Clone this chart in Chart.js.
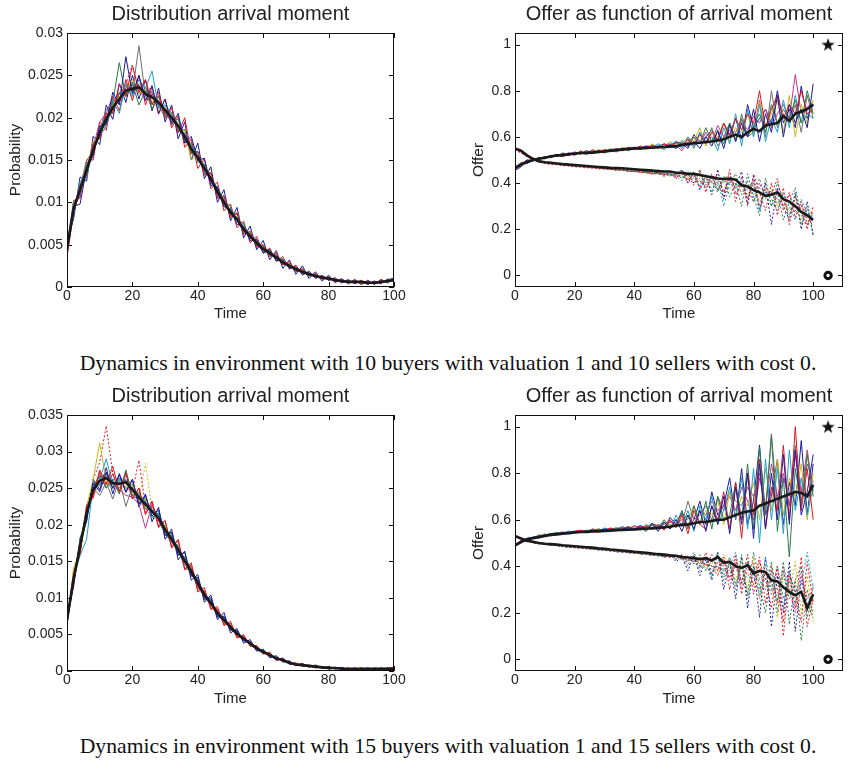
<!DOCTYPE html>
<html>
<head>
<meta charset="utf-8">
<script src="https://cdn.jsdelivr.net/npm/chart.js@4.4.1/dist/chart.umd.min.js"></script>
<style>
body { margin: 0; background: #fff; width: 851px; height: 760px; position: relative; overflow: hidden; }
canvas { position: absolute; }
.cap { position: absolute; left: 0; width: 896px; text-align: center; font: 21.7px/1 'Liberation Serif', 'Times New Roman', serif; color: #111; white-space: nowrap; }
</style>
</head>
<body>
<canvas id="tl" width="410" height="330" style="left:0;top:0"></canvas>
<canvas id="tr" width="388" height="330" style="left:463px;top:0"></canvas>
<canvas id="bl" width="410" height="330" style="left:0;top:382px"></canvas>
<canvas id="br" width="388" height="330" style="left:463px;top:382px"></canvas>
<div class="cap" style="top:353px">Dynamics in environment with 10 buyers with valuation 1 and 10 sellers with cost 0.</div>
<div class="cap" style="top:736px">Dynamics in environment with 15 buyers with valuation 1 and 15 sellers with cost 0.</div>
<script>
// arrival moments (sampled every 2 steps)
const time = [0,2,4,6,8,10,12,14,16,18,20,22,24,26,28,30,32,34,36,38,40,42,44,46,48,50,52,54,56,58,60,62,64,66,68,70,72,74,76,78,80,82,84,86,88,90,92,94,96,98,100]

const probTicks10 = [0, 0.005, 0.01, 0.015, 0.02, 0.025, 0.03]
const probLabels10 = ['0', '0.005', '0.01', '0.015', '0.02', '0.025', '0.03']
const probTicks15 = [0, 0.005, 0.01, 0.015, 0.02, 0.025, 0.03, 0.035]
const probLabels15 = ['0', '0.005', '0.01', '0.015', '0.02', '0.025', '0.03', '0.035']
const offerTicks = [0, 0.2, 0.4, 0.6, 0.8, 1]
const offerLabels = ['0', '0.2', '0.4', '0.6', '0.8', '1']
const timeTicks = [0, 20, 40, 60, 80, 100]

// valuation / cost markers
const starPoint = [{x: 105, y: 1}]
const circlePoint = [{x: 105, y: 0}]

const colors = ['#1b1b9e', '#e8141c', '#2c7a4b', '#1a9fd0', '#c8b81a', '#c7358c', '#6e6e6e']

// ---- 10 buyers / 10 sellers : arrival distribution
const dist10Mean = [.0045,.0092,.0115,.0138,.0162,.0182,.0198,.0212,.0222,.0232,.0234,.0236,.0228,.0224,.0218,.0209,.0200,.0190,.0178,.0163,.0153,.0140,.0128,.0112,.0100,.0088,.0080,.0068,.0060,.0052,.0045,.0040,.0035,.0029,.0025,.0021,.0018,.0015,.0013,.0011,.0010,.0008,.0007,.0006,.0006,.0006,.0005,.0005,.0006,.0007,.0008]
const dist10Runs = [
  [.0040,.0095,.0098,.0140,.0155,.0190,.0192,.0230,.0215,.0272,.0228,.0250,.0220,.0238,.0205,.0222,.0192,.0205,.0170,.0178,.0150,.0152,.0120,.0118,.0095,.0092,.0074,.0072,.0055,.0056,.0040,.0044,.0031,.0032,.0022,.0024,.0015,.0017,.0011,.0013,.0008,.0010,.0005,.0008,.0004,.0007,.0003,.0007,.0004,.0009,.0010],
  [.0035,.0088,.0120,.0132,.0170,.0175,.0205,.0205,.0240,.0225,.0262,.0230,.0245,.0215,.0230,.0200,.0212,.0182,.0200,.0158,.0160,.0132,.0135,.0105,.0108,.0082,.0088,.0062,.0066,.0048,.0050,.0036,.0040,.0026,.0030,.0018,.0022,.0013,.0016,.0009,.0012,.0006,.0009,.0004,.0008,.0003,.0007,.0003,.0008,.0005,.0009],
  [.0050,.0100,.0110,.0145,.0158,.0188,.0200,.0218,.0265,.0225,.0240,.0215,.0232,.0210,.0225,.0205,.0195,.0198,.0172,.0170,.0148,.0145,.0125,.0118,.0102,.0095,.0078,.0075,.0058,.0056,.0044,.0044,.0033,.0033,.0026,.0022,.0020,.0016,.0014,.0012,.0011,.0009,.0008,.0007,.0006,.0005,.0006,.0004,.0007,.0006,.0010],
  [.0042,.0085,.0125,.0128,.0168,.0178,.0190,.0220,.0205,.0240,.0225,.0245,.0235,.0255,.0212,.0215,.0205,.0185,.0182,.0165,.0158,.0135,.0130,.0108,.0105,.0085,.0082,.0065,.0062,.0050,.0047,.0038,.0036,.0028,.0026,.0020,.0019,.0014,.0014,.0010,.0010,.0007,.0008,.0005,.0007,.0004,.0006,.0004,.0005,.0006,.0007],
  [.0044,.0098,.0112,.0135,.0172,.0180,.0195,.0215,.0225,.0230,.0245,.0228,.0232,.0220,.0210,.0212,.0198,.0188,.0185,.0150,.0155,.0138,.0130,.0110,.0102,.0086,.0082,.0070,.0058,.0054,.0043,.0042,.0034,.0030,.0027,.0020,.0019,.0015,.0012,.0012,.0009,.0009,.0006,.0007,.0006,.0005,.0006,.0004,.0006,.0006,.0007],
  [.0046,.0094,.0108,.0142,.0165,.0195,.0205,.0225,.0218,.0235,.0238,.0232,.0222,.0228,.0220,.0205,.0196,.0192,.0175,.0168,.0150,.0142,.0124,.0116,.0098,.0090,.0078,.0070,.0058,.0054,.0046,.0039,.0036,.0028,.0026,.0021,.0018,.0015,.0013,.0011,.0010,.0008,.0007,.0006,.0006,.0006,.0005,.0005,.0006,.0007,.0008],
  [.0048,.0090,.0118,.0150,.0160,.0185,.0210,.0208,.0228,.0238,.0230,.0285,.0225,.0230,.0215,.0200,.0202,.0192,.0175,.0160,.0150,.0142,.0126,.0114,.0098,.0090,.0080,.0066,.0062,.0050,.0042,.0041,.0034,.0030,.0024,.0022,.0017,.0015,.0012,.0012,.0009,.0009,.0007,.0007,.0005,.0006,.0004,.0005,.0005,.0007,.0008],
  [.0055,.0080,.0130,.0125,.0178,.0168,.0215,.0198,.0240,.0218,.0250,.0222,.0245,.0208,.0235,.0195,.0215,.0175,.0195,.0150,.0170,.0128,.0142,.0100,.0115,.0078,.0094,.0058,.0072,.0044,.0055,.0032,.0043,.0022,.0032,.0015,.0025,.0010,.0018,.0007,.0014,.0005,.0010,.0004,.0009,.0003,.0008,.0003,.0009,.0005,.0011],
  [.0038,.0102,.0105,.0150,.0150,.0195,.0185,.0225,.0208,.0245,.0220,.0250,.0215,.0236,.0204,.0222,.0188,.0202,.0165,.0175,.0140,.0152,.0116,.0124,.0090,.0098,.0070,.0078,.0052,.0060,.0040,.0046,.0030,.0036,.0021,.0026,.0014,.0019,.0010,.0014,.0008,.0011,.0005,.0009,.0004,.0008,.0003,.0007,.0004,.0009,.0006],
  [.0050,.0086,.0122,.0132,.0168,.0176,.0204,.0206,.0230,.0226,.0242,.0228,.0236,.0216,.0226,.0202,.0206,.0184,.0186,.0158,.0160,.0134,.0134,.0106,.0106,.0084,.0086,.0064,.0064,.0048,.0049,.0037,.0038,.0027,.0028,.0019,.0020,.0014,.0015,.0010,.0011,.0007,.0008,.0005,.0007,.0005,.0006,.0004,.0007,.0006,.0009]
]
const dist10Dotted = [
  [.0040,.0088,.0118,.0140,.0160,.0185,.0200,.0210,.0230,.0240,.0262,.0235,.0242,.0228,.0215,.0205,.0210,.0188,.0180,.0165,.0150,.0145,.0125,.0115,.0098,.0092,.0078,.0070,.0060,.0050,.0047,.0040,.0033,.0030,.0025,.0022,.0017,.0016,.0012,.0012,.0009,.0009,.0007,.0006,.0006,.0005,.0005,.0005,.0006,.0006,.0008],
  [.0050,.0090,.0112,.0136,.0165,.0178,.0202,.0215,.0220,.0228,.0232,.0240,.0226,.0222,.0220,.0212,.0198,.0192,.0176,.0166,.0155,.0138,.0130,.0110,.0102,.0086,.0082,.0066,.0062,.0050,.0045,.0040,.0036,.0029,.0026,.0020,.0019,.0014,.0014,.0010,.0011,.0008,.0008,.0006,.0007,.0005,.0006,.0004,.0006,.0007,.0008],
  [.0045,.0093,.0116,.0138,.0158,.0184,.0196,.0214,.0224,.0230,.0236,.0238,.0230,.0226,.0214,.0206,.0202,.0186,.0180,.0162,.0154,.0138,.0130,.0110,.0101,.0087,.0081,.0067,.0061,.0051,.0046,.0039,.0035,.0029,.0025,.0021,.0018,.0015,.0013,.0011,.0010,.0008,.0007,.0006,.0006,.0006,.0005,.0005,.0006,.0007,.0008],
  [.0042,.0098,.0108,.0145,.0155,.0190,.0190,.0220,.0215,.0238,.0226,.0244,.0220,.0232,.0210,.0216,.0192,.0198,.0170,.0172,.0146,.0148,.0122,.0120,.0094,.0094,.0074,.0074,.0056,.0058,.0042,.0044,.0032,.0033,.0023,.0024,.0016,.0017,.0011,.0012,.0008,.0009,.0006,.0007,.0005,.0007,.0004,.0006,.0005,.0008,.0007],
  [.0048,.0086,.0122,.0132,.0170,.0175,.0206,.0205,.0230,.0226,.0242,.0228,.0236,.0216,.0226,.0202,.0208,.0182,.0186,.0156,.0160,.0132,.0136,.0104,.0108,.0082,.0086,.0062,.0064,.0046,.0048,.0036,.0038,.0026,.0028,.0018,.0020,.0013,.0015,.0010,.0012,.0007,.0009,.0005,.0008,.0004,.0007,.0004,.0007,.0005,.0009],
  [.0046,.0094,.0114,.0141,.0159,.0186,.0194,.0216,.0220,.0236,.0230,.0240,.0226,.0228,.0214,.0210,.0198,.0194,.0176,.0166,.0152,.0142,.0128,.0114,.0100,.0090,.0080,.0070,.0060,.0054,.0045,.0041,.0035,.0030,.0025,.0022,.0018,.0016,.0013,.0012,.0010,.0009,.0007,.0007,.0006,.0006,.0005,.0005,.0006,.0007,.0008]
]

// ---- 10 buyers / 10 sellers : offers
const offer10Buyer = [.465,.48,.49,.50,.505,.51,.515,.52,.52,.525,.527,.53,.53,.532,.535,.537,.54,.542,.545,.548,.55,.55,.552,.553,.555,.556,.558,.56,.565,.57,.573,.575,.578,.58,.585,.59,.60,.61,.60,.62,.635,.625,.65,.655,.66,.69,.67,.70,.71,.72,.74]
const offer10Seller = [.55,.54,.52,.505,.495,.49,.488,.485,.482,.48,.478,.476,.474,.472,.47,.468,.466,.465,.464,.462,.46,.458,.456,.454,.452,.45,.45,.445,.445,.44,.44,.435,.43,.425,.42,.418,.42,.415,.39,.385,.37,.36,.345,.35,.36,.33,.32,.30,.275,.26,.24]
const offer10BuyerRuns = [
  [.455,.47,.50,.495,.51,.505,.52,.515,.53,.52,.535,.525,.54,.53,.54,.535,.545,.54,.55,.545,.555,.55,.56,.55,.56,.555,.565,.55,.575,.56,.58,.55,.60,.56,.63,.55,.65,.58,.66,.60,.72,.58,.70,.62,.78,.60,.74,.66,.72,.64,.83],
  [.47,.485,.49,.505,.50,.515,.51,.525,.515,.53,.52,.54,.525,.545,.53,.545,.535,.55,.54,.555,.545,.56,.55,.565,.55,.57,.56,.575,.56,.59,.57,.61,.57,.62,.59,.66,.60,.68,.63,.70,.66,.80,.64,.72,.78,.68,.74,.70,.80,.70,.72],
  [.46,.49,.485,.50,.51,.51,.52,.515,.525,.52,.53,.53,.525,.535,.54,.53,.54,.535,.55,.54,.55,.545,.555,.55,.56,.545,.57,.55,.585,.56,.60,.57,.64,.58,.62,.57,.66,.59,.68,.60,.65,.70,.62,.74,.66,.72,.68,.76,.66,.80,.70],
  [.47,.475,.495,.50,.505,.515,.51,.52,.52,.53,.525,.535,.53,.54,.535,.54,.545,.55,.545,.55,.55,.56,.55,.555,.57,.56,.565,.58,.55,.60,.56,.62,.58,.60,.54,.64,.57,.70,.56,.72,.60,.74,.58,.68,.62,.76,.64,.78,.66,.70,.68],
  [.46,.48,.49,.51,.50,.515,.515,.52,.53,.525,.53,.535,.54,.53,.545,.54,.55,.54,.555,.55,.55,.56,.545,.57,.555,.56,.58,.56,.57,.60,.58,.64,.56,.62,.60,.66,.58,.64,.62,.70,.60,.75,.64,.70,.76,.62,.78,.60,.74,.66,.76],
  [.465,.485,.50,.50,.51,.51,.52,.52,.525,.53,.53,.53,.535,.54,.535,.545,.54,.55,.55,.55,.555,.555,.56,.56,.56,.565,.57,.565,.54,.58,.60,.57,.62,.58,.65,.60,.63,.62,.67,.63,.69,.66,.72,.64,.70,.74,.68,.87,.70,.73,.75],
  [.462,.478,.492,.502,.506,.512,.516,.522,.524,.528,.53,.532,.534,.536,.538,.54,.542,.545,.546,.55,.552,.553,.556,.558,.56,.562,.555,.575,.56,.59,.55,.62,.57,.64,.56,.60,.66,.58,.70,.60,.62,.76,.60,.80,.64,.70,.66,.74,.62,.78,.68],
  [.468,.482,.488,.498,.508,.508,.518,.518,.522,.526,.528,.528,.532,.53,.536,.538,.538,.546,.544,.552,.55,.558,.552,.56,.556,.57,.56,.58,.57,.55,.61,.58,.60,.63,.58,.66,.61,.68,.59,.74,.64,.68,.72,.66,.80,.66,.72,.64,.82,.68,.74]
]
const offer10SellerRuns = [
  [.545,.53,.515,.50,.49,.485,.48,.48,.475,.475,.47,.47,.465,.47,.46,.465,.46,.455,.46,.45,.455,.445,.45,.44,.445,.435,.445,.42,.45,.41,.44,.38,.43,.40,.44,.36,.42,.38,.40,.33,.41,.30,.38,.35,.42,.28,.36,.25,.32,.22,.28],
  [.55,.545,.52,.51,.50,.49,.49,.485,.48,.48,.475,.475,.47,.47,.465,.465,.46,.46,.455,.455,.45,.45,.445,.45,.44,.445,.435,.44,.42,.44,.40,.45,.39,.43,.37,.41,.40,.44,.35,.41,.32,.38,.36,.30,.40,.33,.26,.35,.22,.30,.18],
  [.55,.535,.525,.505,.50,.49,.485,.485,.48,.475,.48,.47,.47,.465,.47,.46,.465,.455,.46,.45,.45,.455,.445,.44,.445,.43,.44,.43,.41,.45,.42,.39,.44,.36,.42,.30,.40,.38,.42,.34,.39,.28,.37,.33,.28,.36,.30,.24,.33,.27,.25],
  [.545,.54,.52,.505,.495,.49,.49,.48,.48,.478,.475,.47,.47,.47,.465,.462,.46,.46,.455,.45,.455,.45,.44,.445,.44,.44,.43,.445,.43,.42,.44,.40,.42,.38,.41,.40,.37,.42,.38,.35,.40,.32,.36,.38,.30,.34,.28,.31,.24,.29,.26],
  [.55,.53,.52,.50,.49,.49,.485,.48,.48,.475,.475,.47,.468,.465,.465,.46,.458,.46,.455,.452,.45,.448,.445,.44,.44,.438,.435,.43,.44,.40,.43,.41,.38,.42,.39,.36,.42,.35,.39,.37,.32,.40,.34,.36,.33,.30,.35,.28,.31,.26,.23],
  [.55,.54,.52,.50,.495,.488,.485,.482,.48,.478,.475,.472,.47,.468,.466,.463,.462,.46,.458,.455,.452,.45,.448,.446,.443,.44,.438,.435,.45,.42,.43,.44,.40,.43,.37,.42,.44,.36,.40,.38,.35,.42,.33,.37,.31,.35,.32,.27,.30,.24,.22],
  [.55,.54,.522,.505,.496,.49,.486,.484,.48,.48,.476,.474,.472,.47,.468,.466,.464,.46,.46,.458,.455,.452,.45,.448,.445,.44,.44,.43,.46,.40,.45,.37,.43,.35,.46,.33,.42,.39,.45,.31,.43,.28,.40,.22,.38,.30,.24,.36,.20,.32,.17],
  [.545,.535,.518,.505,.494,.49,.486,.483,.48,.477,.474,.472,.469,.466,.464,.462,.46,.458,.456,.452,.45,.448,.446,.44,.442,.43,.445,.42,.44,.43,.39,.46,.36,.44,.40,.34,.46,.32,.43,.30,.44,.36,.28,.40,.26,.38,.22,.34,.28,.20,.30],
  [.55,.54,.52,.505,.495,.49,.488,.485,.48,.478,.476,.474,.47,.47,.466,.464,.462,.458,.456,.454,.45,.45,.446,.442,.44,.438,.432,.436,.425,.44,.40,.42,.38,.41,.36,.43,.34,.40,.30,.44,.34,.26,.42,.30,.36,.24,.32,.38,.26,.22,.27]
]

// ---- 15 buyers / 15 sellers : arrival distribution
const dist15Mean = [.0070,.0125,.0170,.0216,.0248,.0260,.0264,.0257,.0256,.0258,.0248,.0237,.0228,.0218,.0209,.0193,.0180,.0166,.0150,.0136,.0120,.0104,.0093,.0079,.0070,.0060,.0051,.0044,.0038,.0031,.0026,.0022,.0017,.0015,.0011,.0009,.0008,.0007,.0006,.0005,.0004,.0004,.0003,.0003,.0003,.0003,.0003,.0003,.0003,.0003,.0003]
const dist15Runs = [
  [.0065,.0120,.0175,.0205,.0258,.0245,.0272,.0250,.0268,.0245,.0262,.0228,.0240,.0212,.0220,.0185,.0190,.0158,.0162,.0130,.0128,.0098,.0100,.0074,.0075,.0056,.0055,.0041,.0040,.0029,.0028,.0020,.0019,.0013,.0013,.0008,.0010,.0006,.0008,.0004,.0006,.0003,.0005,.0002,.0004,.0002,.0004,.0002,.0004,.0003,.0004],
  [.0072,.0132,.0160,.0225,.0240,.0275,.0255,.0280,.0245,.0270,.0235,.0250,.0215,.0232,.0198,.0205,.0170,.0178,.0140,.0145,.0112,.0110,.0086,.0085,.0064,.0065,.0046,.0048,.0034,.0034,.0024,.0024,.0015,.0017,.0010,.0011,.0007,.0008,.0005,.0006,.0004,.0005,.0002,.0004,.0002,.0004,.0002,.0004,.0003,.0004,.0005],
  [.0068,.0118,.0180,.0210,.0252,.0268,.0250,.0262,.0242,.0275,.0240,.0244,.0222,.0225,.0212,.0190,.0185,.0160,.0155,.0140,.0115,.0108,.0090,.0082,.0068,.0062,.0050,.0046,.0037,.0033,.0027,.0023,.0018,.0016,.0012,.0010,.0009,.0007,.0006,.0005,.0005,.0004,.0003,.0003,.0003,.0003,.0002,.0003,.0003,.0003,.0004],
  [.0070,.0128,.0158,.0180,.0255,.0262,.0290,.0255,.0260,.0262,.0236,.0240,.0232,.0210,.0215,.0196,.0176,.0172,.0148,.0138,.0122,.0100,.0096,.0076,.0072,.0058,.0052,.0042,.0040,.0030,.0026,.0022,.0016,.0015,.0011,.0009,.0008,.0007,.0006,.0005,.0004,.0004,.0003,.0003,.0003,.0003,.0003,.0003,.0003,.0003,.0003],
  [.0060,.0140,.0165,.0225,.0262,.0312,.0260,.0250,.0262,.0250,.0255,.0232,.0235,.0210,.0212,.0198,.0180,.0170,.0148,.0140,.0118,.0106,.0092,.0080,.0068,.0062,.0050,.0045,.0038,.0031,.0027,.0022,.0018,.0014,.0012,.0009,.0008,.0007,.0006,.0005,.0004,.0004,.0003,.0003,.0003,.0003,.0003,.0003,.0003,.0004,.0003],
  [.0075,.0122,.0172,.0218,.0245,.0258,.0262,.0255,.0248,.0240,.0238,.0228,.0195,.0228,.0205,.0196,.0182,.0162,.0152,.0132,.0122,.0102,.0094,.0078,.0071,.0058,.0052,.0043,.0039,.0030,.0026,.0021,.0018,.0014,.0012,.0009,.0008,.0007,.0006,.0005,.0004,.0004,.0003,.0003,.0003,.0003,.0003,.0003,.0003,.0003,.0004],
  [.0070,.0126,.0168,.0212,.0250,.0240,.0258,.0235,.0262,.0225,.0252,.0240,.0226,.0220,.0208,.0188,.0175,.0168,.0140,.0138,.0118,.0106,.0090,.0082,.0066,.0060,.0048,.0046,.0036,.0030,.0025,.0022,.0017,.0015,.0011,.0010,.0008,.0007,.0006,.0005,.0004,.0004,.0003,.0003,.0003,.0003,.0003,.0003,.0003,.0003,.0003],
  [.0075,.0115,.0182,.0205,.0262,.0248,.0278,.0242,.0270,.0244,.0262,.0224,.0242,.0204,.0224,.0180,.0194,.0152,.0164,.0124,.0132,.0094,.0104,.0070,.0080,.0052,.0058,.0038,.0043,.0027,.0030,.0018,.0021,.0012,.0014,.0007,.0010,.0005,.0008,.0004,.0006,.0003,.0004,.0002,.0004,.0002,.0004,.0002,.0004,.0002,.0004],
  [.0065,.0135,.0160,.0228,.0236,.0272,.0250,.0270,.0244,.0272,.0236,.0250,.0214,.0232,.0196,.0206,.0168,.0180,.0138,.0148,.0108,.0114,.0084,.0088,.0062,.0068,.0045,.0050,.0034,.0035,.0023,.0026,.0014,.0018,.0009,.0011,.0006,.0008,.0004,.0006,.0003,.0005,.0002,.0004,.0002,.0004,.0002,.0004,.0002,.0004,.0003],
  [.0070,.0128,.0176,.0210,.0256,.0254,.0270,.0250,.0264,.0250,.0256,.0230,.0236,.0210,.0216,.0186,.0188,.0160,.0156,.0130,.0126,.0100,.0098,.0074,.0074,.0056,.0054,.0042,.0040,.0030,.0028,.0021,.0019,.0014,.0012,.0009,.0009,.0006,.0007,.0004,.0005,.0003,.0004,.0003,.0003,.0003,.0003,.0003,.0003,.0003,.0004]
]
const dist15Dotted = [
  [.0068,.0125,.0172,.0212,.0262,.0285,.0335,.0270,.0255,.0250,.0245,.0288,.0225,.0220,.0210,.0195,.0182,.0168,.0152,.0136,.0120,.0105,.0094,.0080,.0071,.0061,.0052,.0045,.0038,.0032,.0027,.0022,.0017,.0015,.0012,.0010,.0008,.0007,.0006,.0005,.0004,.0004,.0003,.0003,.0003,.0004,.0003,.0003,.0003,.0003,.0003],
  [.0072,.0128,.0168,.0218,.0245,.0262,.0258,.0252,.0262,.0252,.0242,.0235,.0284,.0218,.0205,.0192,.0178,.0162,.0150,.0134,.0118,.0102,.0092,.0078,.0069,.0059,.0050,.0044,.0037,.0031,.0025,.0021,.0017,.0015,.0011,.0009,.0008,.0007,.0006,.0005,.0004,.0004,.0003,.0003,.0003,.0003,.0003,.0003,.0003,.0003,.0003],
  [.0066,.0122,.0174,.0220,.0250,.0265,.0268,.0260,.0250,.0262,.0250,.0240,.0230,.0222,.0212,.0195,.0182,.0168,.0152,.0138,.0122,.0106,.0094,.0080,.0071,.0061,.0052,.0045,.0038,.0032,.0027,.0022,.0018,.0015,.0011,.0010,.0008,.0007,.0006,.0005,.0004,.0004,.0003,.0003,.0003,.0003,.0003,.0003,.0003,.0003,.0003],
  [.0070,.0120,.0176,.0212,.0254,.0266,.0270,.0262,.0262,.0266,.0254,.0242,.0234,.0222,.0214,.0198,.0184,.0170,.0154,.0140,.0124,.0108,.0096,.0082,.0072,.0062,.0053,.0046,.0039,.0032,.0027,.0022,.0018,.0015,.0012,.0010,.0008,.0007,.0006,.0005,.0005,.0004,.0004,.0003,.0003,.0003,.0003,.0003,.0003,.0003,.0003],
  [.0068,.0130,.0164,.0220,.0242,.0254,.0258,.0250,.0250,.0252,.0242,.0232,.0222,.0212,.0204,.0188,.0176,.0162,.0146,.0132,.0116,.0100,.0090,.0076,.0068,.0058,.0049,.0042,.0036,.0030,.0025,.0021,.0016,.0014,.0010,.0009,.0007,.0006,.0005,.0005,.0004,.0003,.0003,.0003,.0003,.0003,.0003,.0003,.0003,.0003,.0004],
  [.0072,.0124,.0172,.0214,.0250,.0262,.0262,.0262,.0254,.0262,.0246,.0240,.0226,.0222,.0206,.0196,.0178,.0170,.0148,.0140,.0118,.0108,.0091,.0082,.0068,.0062,.0050,.0046,.0037,.0032,.0026,.0023,.0017,.0016,.0011,.0010,.0008,.0007,.0006,.0005,.0004,.0004,.0003,.0003,.0003,.0003,.0003,.0003,.0003,.0003,.0003]
]

// ---- 15 buyers / 15 sellers : offers
const offer15Buyer = [.49,.505,.515,.52,.525,.53,.535,.537,.54,.542,.545,.547,.548,.55,.55,.552,.553,.555,.556,.557,.558,.56,.562,.563,.565,.568,.57,.575,.578,.58,.585,.59,.59,.595,.60,.60,.61,.62,.63,.635,.64,.66,.67,.68,.69,.70,.71,.72,.715,.70,.75]
const offer15Seller = [.53,.52,.51,.505,.50,.497,.495,.493,.49,.488,.486,.484,.482,.48,.477,.475,.472,.47,.468,.465,.462,.46,.458,.455,.452,.45,.447,.445,.44,.438,.435,.43,.435,.425,.44,.415,.42,.40,.393,.405,.37,.38,.375,.34,.335,.31,.29,.275,.29,.22,.28]
const offer15BuyerRuns = [
  [.49,.51,.52,.525,.53,.535,.54,.54,.545,.545,.55,.545,.55,.555,.55,.56,.555,.56,.56,.565,.56,.57,.555,.58,.55,.59,.56,.60,.55,.62,.56,.64,.55,.66,.58,.70,.54,.74,.58,.80,.52,.84,.56,.80,.60,.88,.58,.90,.62,.72,.88],
  [.485,.50,.515,.52,.53,.53,.54,.535,.545,.54,.55,.555,.545,.56,.555,.55,.565,.555,.56,.57,.555,.56,.575,.56,.58,.555,.60,.565,.62,.54,.64,.58,.56,.66,.60,.72,.56,.76,.52,.80,.62,.86,.56,.74,.64,.92,.60,1.0,.64,.82,.60],
  [.495,.505,.52,.52,.535,.53,.54,.545,.54,.55,.545,.55,.555,.55,.56,.555,.56,.565,.555,.57,.56,.565,.55,.585,.56,.60,.57,.58,.64,.56,.66,.58,.68,.56,.70,.60,.62,.76,.60,.84,.56,.91,.62,.96,.55,.78,.44,.82,.66,.88,.70],
  [.49,.51,.515,.525,.525,.535,.535,.545,.54,.55,.55,.545,.55,.56,.55,.565,.555,.555,.57,.56,.565,.555,.58,.565,.575,.59,.56,.62,.57,.64,.55,.66,.60,.70,.58,.64,.74,.60,.78,.56,.82,.50,.86,.60,.82,.54,.90,.64,.78,.62,.74],
  [.495,.505,.51,.52,.53,.54,.53,.54,.55,.54,.545,.555,.545,.55,.56,.55,.555,.565,.56,.555,.57,.56,.565,.58,.56,.59,.58,.57,.62,.60,.66,.58,.64,.62,.68,.58,.72,.62,.70,.66,.76,.60,.82,.64,.86,.62,.78,.70,.84,.60,.80],
  [.49,.505,.52,.52,.53,.535,.535,.54,.545,.545,.55,.55,.55,.555,.555,.56,.56,.56,.565,.565,.57,.57,.565,.575,.57,.58,.59,.585,.60,.62,.58,.64,.62,.68,.64,.66,.70,.64,.74,.68,.60,.78,.66,.84,.70,.80,.66,.88,.72,.90,.72],
  [.49,.50,.515,.525,.525,.53,.54,.54,.54,.55,.545,.55,.55,.555,.56,.555,.56,.56,.57,.56,.575,.565,.57,.58,.575,.57,.59,.60,.58,.68,.60,.62,.66,.60,.70,.64,.72,.68,.66,.74,.70,.80,.64,.97,.66,.78,.70,.92,.68,.84,.76],
  [.488,.502,.512,.522,.528,.534,.538,.542,.544,.548,.55,.552,.552,.556,.558,.558,.562,.562,.566,.568,.562,.575,.565,.585,.57,.56,.61,.58,.63,.57,.60,.68,.58,.72,.62,.66,.78,.60,.82,.58,.68,.92,.62,.70,.86,.58,.76,.66,.94,.62,.84]
]
const offer15SellerRuns = [
  [.53,.515,.51,.50,.50,.495,.49,.49,.485,.485,.48,.48,.478,.475,.475,.47,.47,.465,.465,.46,.46,.455,.455,.45,.45,.445,.44,.445,.43,.44,.42,.44,.40,.45,.38,.44,.30,.43,.33,.45,.28,.42,.35,.22,.40,.10,.36,.30,.16,.42,.24],
  [.525,.52,.505,.505,.495,.495,.49,.49,.485,.48,.485,.478,.48,.472,.475,.468,.47,.462,.465,.458,.46,.452,.455,.448,.45,.44,.452,.435,.45,.42,.46,.40,.44,.36,.46,.34,.42,.30,.45,.26,.40,.32,.20,.38,.25,.42,.15,.34,.08,.30,.20],
  [.535,.52,.51,.50,.50,.495,.492,.488,.486,.484,.48,.48,.476,.476,.472,.47,.468,.466,.462,.462,.458,.456,.452,.45,.448,.44,.445,.43,.44,.40,.43,.38,.44,.35,.45,.38,.40,.46,.32,.42,.36,.28,.44,.30,.40,.22,.38,.28,.32,.46,.30],
  [.53,.52,.51,.505,.50,.496,.492,.49,.486,.485,.482,.478,.478,.474,.472,.47,.466,.466,.464,.46,.458,.456,.454,.452,.446,.45,.44,.442,.428,.446,.41,.43,.39,.42,.36,.45,.38,.34,.42,.30,.44,.26,.40,.32,.18,.36,.28,.42,.20,.36,.16],
  [.525,.515,.51,.50,.498,.494,.49,.488,.486,.482,.48,.478,.475,.474,.47,.47,.466,.464,.46,.46,.456,.455,.452,.448,.446,.445,.44,.436,.445,.425,.44,.41,.43,.40,.36,.44,.34,.41,.30,.38,.42,.26,.38,.34,.24,.40,.30,.20,.36,.26,.30],
  [.53,.518,.508,.502,.498,.494,.49,.49,.485,.483,.48,.478,.476,.474,.47,.468,.465,.462,.46,.458,.456,.454,.45,.448,.445,.442,.44,.44,.43,.43,.42,.42,.41,.40,.39,.38,.37,.40,.34,.36,.38,.30,.35,.28,.40,.26,.34,.24,.38,.22,.32],
  [.528,.518,.51,.503,.498,.495,.492,.49,.487,.484,.482,.48,.477,.475,.472,.47,.467,.465,.462,.46,.457,.455,.45,.452,.445,.44,.45,.42,.44,.38,.45,.36,.43,.34,.46,.30,.42,.26,.44,.22,.40,.18,.44,.14,.36,.20,.42,.12,.34,.24,.18],
  [.532,.52,.512,.505,.50,.496,.494,.49,.488,.486,.483,.48,.479,.476,.473,.47,.468,.466,.463,.46,.458,.456,.452,.446,.452,.438,.446,.43,.45,.41,.44,.39,.46,.37,.42,.40,.35,.45,.28,.42,.32,.44,.24,.40,.30,.16,.38,.22,.44,.14,.26],
  [.53,.52,.508,.504,.498,.496,.49,.49,.486,.484,.481,.479,.476,.474,.471,.469,.467,.464,.461,.459,.456,.454,.451,.448,.446,.443,.44,.445,.43,.44,.41,.45,.38,.43,.40,.36,.44,.32,.40,.28,.46,.34,.30,.42,.20,.38,.26,.34,.40,.18,.28]
]

const pts = vals => vals.slice(0, time.length).map((v, i) => ({x: time[i], y: v}))

const line = (vals, color, extra) => Object.assign({
  data: pts(vals), borderColor: color, borderWidth: 1, pointRadius: 0, tension: 0, fill: false
}, extra || {})

const meanLine = vals => line(vals, '#1a1a1a', {borderWidth: 2.6})

function starImage(size) {
  const c = document.createElement('canvas')
  c.width = c.height = size
  const g = c.getContext('2d')
  g.fillStyle = '#111'
  g.beginPath()
  for (let i = 0; i < 10; i++) {
    const r = i % 2 ? size * 0.2 : size * 0.5
    const a = -Math.PI / 2 + i * Math.PI / 5
    g.lineTo(size / 2 + r * Math.cos(a), size / 2 + r * Math.sin(a) + size * 0.04)
  }
  g.closePath()
  g.fill()
  return c
}

const markers = () => [
  {data: starPoint, showLine: false, pointStyle: starImage(14), pointRadius: 7},
  {data: circlePoint, showLine: false, pointStyle: 'circle', pointRadius: 3.2, pointBorderWidth: 3, pointBackgroundColor: '#fff', pointBorderColor: '#111'}
]

// box around the axes with inward ticks on every side, plus the panel title
const boxPlugin = {
  id: 'box',
  afterDatasetsDraw(chart, args, opts) {
    const {ctx, chartArea: a, scales: {x, y}} = chart
    ctx.save()
    ctx.strokeStyle = '#111'
    ctx.lineWidth = 1
    ctx.strokeRect(Math.round(a.left) + .5, Math.round(a.top) + .5, Math.round(a.right - a.left) - 1, Math.round(a.bottom - a.top) - 1)
    ctx.beginPath()
    x.ticks.forEach(t => {
      const px = Math.round(x.getPixelForValue(t.value)) + .5
      ctx.moveTo(px, a.bottom); ctx.lineTo(px, a.bottom - 5)
      ctx.moveTo(px, a.top); ctx.lineTo(px, a.top + 5)
    })
    y.ticks.forEach(t => {
      const py = Math.round(y.getPixelForValue(t.value)) + .5
      ctx.moveTo(a.left, py); ctx.lineTo(a.left + 5, py)
      ctx.moveTo(a.right, py); ctx.lineTo(a.right - 5, py)
    })
    ctx.stroke()
    ctx.fillStyle = '#222'
    ctx.font = '20px "Liberation Sans", Arial, sans-serif'
    ctx.textAlign = 'center'
    ctx.textBaseline = 'alphabetic'
    ctx.fillText(opts.text, (a.left + a.right) / 2, 20)
    ctx.restore()
  }
}

function panel(id, o) {
  const tickFont = {family: 'Liberation Sans', size: 14}
  return new Chart(document.getElementById(id), {
    type: 'line',
    data: {datasets: o.datasets},
    plugins: [boxPlugin],
    options: {
      responsive: false,
      animation: false,
      devicePixelRatio: 1,
      layout: {padding: {left: 0, top: 33, right: o.padRight, bottom: 0}},
      plugins: {legend: {display: false}, tooltip: {enabled: false}, box: {text: o.title}},
      scales: {
        x: {
          type: 'linear', min: 0, max: o.xMax,
          grid: {display: false, drawTicks: false}, border: {display: false},
          afterBuildTicks: s => { s.ticks = timeTicks.map(v => ({value: v})) },
          afterFit: s => { s.height = o.xHeight; s.paddingLeft = 0; s.paddingRight = 0 },
          ticks: {font: tickFont, color: '#222', padding: 1, maxRotation: 0, autoSkip: false, callback: v => String(v)},
          title: {display: true, text: 'Time', color: '#222', font: {family: 'Liberation Sans', size: 15}, padding: {top: 0, bottom: o.timePad}}
        },
        y: {
          type: 'linear', min: o.yMin, max: o.yMax,
          grid: {display: false, drawTicks: false}, border: {display: false},
          afterBuildTicks: s => { s.ticks = o.yTicks.map(v => ({value: v})) },
          afterFit: s => { s.width = o.yWidth; s.paddingTop = 0; s.paddingBottom = 0 },
          ticks: {font: tickFont, color: '#222', padding: 4, autoSkip: false,
            callback: v => { const k = o.yTicks.findIndex(t => Math.abs(t - v) < 1e-9); return k < 0 ? '' : o.yLabels[k] }},
          title: {display: true, text: o.yTitle, color: '#222', font: {family: 'Liberation Sans', size: 15.5}, padding: {top: 6, bottom: 0}}
        }
      }
    }
  })
}

const distSets = (mean, runs, dotted) => [meanLine(mean)]
  .concat(runs.map((r, i) => line(r, colors[i % colors.length])))
  .concat(dotted.map((r, i) => line(r, colors[(i * 3 + 1) % colors.length], {borderDash: [2, 2]})))

const offerSets = (buyer, seller, bRuns, sRuns) => markers()
  .concat([meanLine(buyer), meanLine(seller)])
  .concat(bRuns.map((r, i) => line(r, colors[i % colors.length])))
  .concat(sRuns.map((r, i) => line(r, colors[(i + 1) % colors.length], {borderDash: [2, 2]})))

panel('tl', {title: 'Distribution arrival moment', yTitle: 'Probability', xMax: 100, yMin: 0, yMax: 0.03,
  yTicks: probTicks10, yLabels: probLabels10, yWidth: 67, xHeight: 43, padRight: 16, timePad: 7,
  datasets: distSets(dist10Mean, dist10Runs, dist10Dotted)})

panel('tr', {title: 'Offer as function of arrival moment', yTitle: 'Offer', xMax: 110, yMin: -0.05, yMax: 1.05,
  yTicks: offerTicks, yLabels: offerLabels, yWidth: 52, xHeight: 43, padRight: 2, timePad: 7,
  datasets: offerSets(offer10Buyer, offer10Seller, offer10BuyerRuns, offer10SellerRuns)})

panel('bl', {title: 'Distribution arrival moment', yTitle: 'Probability', xMax: 100, yMin: 0, yMax: 0.035,
  yTicks: probTicks15, yLabels: probLabels15, yWidth: 67, xHeight: 41, padRight: 16, timePad: 4,
  datasets: distSets(dist15Mean, dist15Runs, dist15Dotted)})

panel('br', {title: 'Offer as function of arrival moment', yTitle: 'Offer', xMax: 110, yMin: -0.05, yMax: 1.05,
  yTicks: offerTicks, yLabels: offerLabels, yWidth: 52, xHeight: 41, padRight: 2, timePad: 4,
  datasets: offerSets(offer15Buyer, offer15Seller, offer15BuyerRuns, offer15SellerRuns)})
</script>
</body>
</html>
